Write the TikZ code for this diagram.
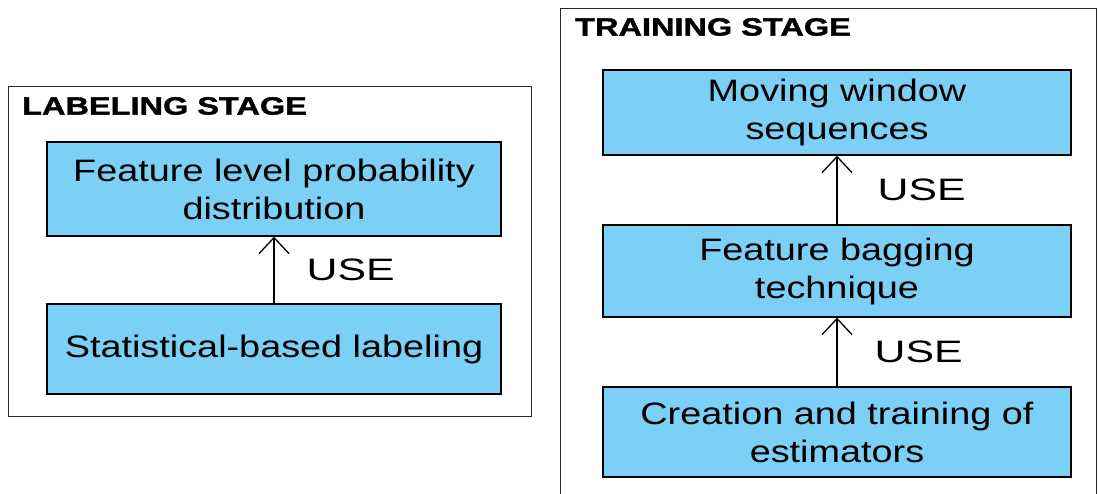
\documentclass[tikz,border=0pt]{standalone}
\usepackage{fontspec}
\setmainfont{Liberation Sans}
\newfontfamily\boxfont[FakeStretch=1.22]{Liberation Sans}
\newfontfamily\uselabelfont[FakeStretch=1.38]{Liberation Sans}
\newfontfamily\titlefont[FakeStretch=1.3,FakeBold=1.5]{Liberation Sans}
\usetikzlibrary{arrows.meta}

\begin{document}
\begin{tikzpicture}[x=1pt,y=1pt,yscale=-1,xscale=1,
  stage/.style={draw={rgb,255:red,40;green,40;blue,40},line width=1pt},
  stagetitle/.style={anchor=west,inner sep=0pt,font=\titlefont\fontsize{25}{28}\selectfont\bfseries},
  stepbox/.style={draw=black,line width=1.4pt,fill={rgb,255:red,125;green,208;blue,245},
    rectangle,inner sep=0pt,align=center,font=\boxfont\fontsize{31}{38}\selectfont},
  uselabel/.style={inner sep=0pt,font=\uselabelfont\fontsize{31}{38}\selectfont},
  usearrow/.style={line width=1.3pt,-{Straight Barb[length=16pt,width=30pt,line width=1.3pt]}}]
\useasboundingbox (0,0) rectangle (1098,494);

%Shape: Rectangle [labeling stage]
\draw [stage] (8,87) rectangle (531,416);
\node [stagetitle] (labtitle) at (22,106) {LABELING STAGE};
%Shape: Rectangle
\node [stepbox,minimum width=454pt,minimum height=94pt] (featdist) at (274,189) {Feature level probability\\distribution};
%Shape: Rectangle
\node [stepbox,minimum width=454pt,minimum height=90pt] (statlab) at (274,349) {Statistical-based labeling};
%Straight Lines
\draw [usearrow] (statlab) -- node[uselabel,right=32pt] {USE} (featdist);

%Shape: Rectangle [training stage]
\draw [stage] (560,494) -- (560,9) -- (1096,9) -- (1096,494);
\node [stagetitle] (traintitle) at (575,27) {TRAINING STAGE};
%Shape: Rectangle
\node [stepbox,minimum width=468pt,minimum height=85pt] (movwin) at (837,112.5) {Moving window\\sequences};
%Shape: Rectangle
\node [stepbox,minimum width=468pt,minimum height=92pt] (featbag) at (837,271) {Feature bagging\\technique};
%Shape: Rectangle
\node [stepbox,minimum width=468pt,minimum height=90pt] (estim) at (837,432) {Creation and training of\\estimators};
%Straight Lines
\draw [usearrow] (featbag) -- node[uselabel,right=40pt] {USE} (movwin);
\draw [usearrow] (estim) -- node[uselabel,right=37pt] {USE} (featbag);

\end{tikzpicture}
\end{document}
